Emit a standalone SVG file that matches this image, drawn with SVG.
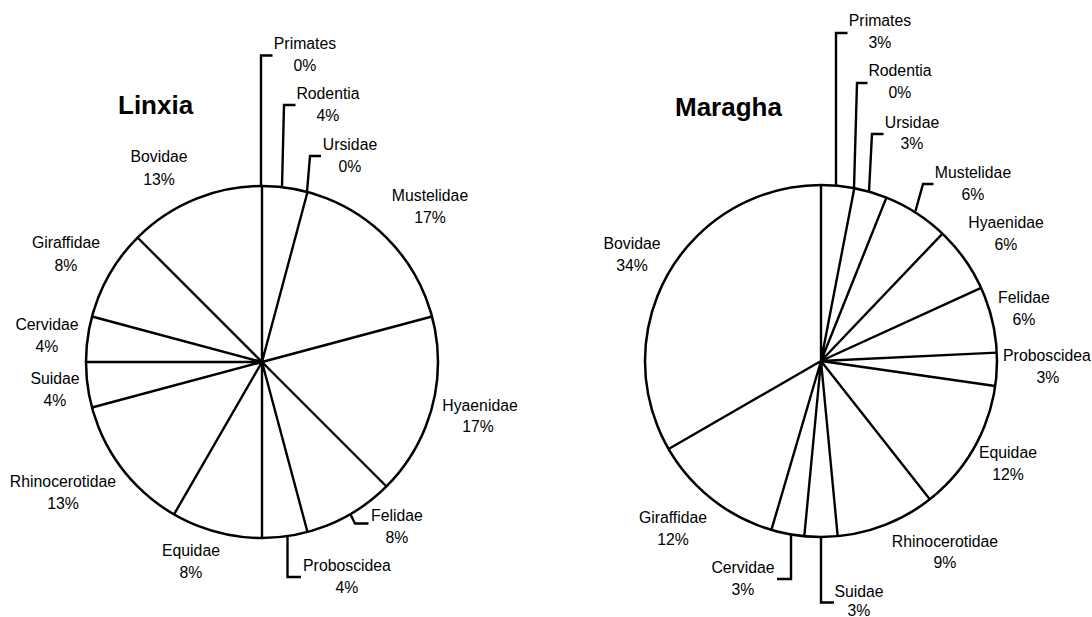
<svg xmlns="http://www.w3.org/2000/svg" width="1092" height="617" viewBox="0 0 1092 617">
<style>
.pie{fill:#fff;stroke:#000;stroke-width:2.5}
.ln{fill:none;stroke:#000;stroke-width:2.4;stroke-linejoin:miter}
.lb{font-family:"Liberation Sans",Arial,Helvetica,sans-serif;font-size:15.8px;fill:#000;text-anchor:middle}
.tt{font-family:"Liberation Sans",Arial,Helvetica,sans-serif;font-size:26px;font-weight:bold;fill:#000}
</style>
<rect width="1092" height="617" fill="#fff"/>
<g id="linxia">
<text class="tt" x="118" y="114">Linxia</text>
<circle class="pie" cx="262" cy="362" r="176"/>
<g id="linxia-slices">
<path class="ln" d="M262 362L262 186M262 362L307.5 192M262 362L432 316.5M262 362L386.5 486.5M262 362L307.5 532M262 362L262 538M262 362L174 514.4M262 362L92 407.5M262 362L86 362M262 362L92 316.5M262 362L137.5 237.5"/>
</g>
</g>
<g id="connectors">
<polyline class="ln" points="261,186 261,55.5 272.5,55.5"/>
<polyline class="ln" points="282,187 284,105 295.5,105"/>
<polyline class="ln" points="307,192 310,156 321,156"/>
<polyline class="ln" points="350.5,514.5 355,523.5 368.5,523.5"/>
<polyline class="ln" points="287.5,537 287.5,577 301,577"/>
<polyline class="ln" points="836,185.6 836,33 847.5,33"/>
<polyline class="ln" points="854,188 857,83 867.5,83"/>
<polyline class="ln" points="869,191.5 872,134 883.5,134"/>
<polyline class="ln" points="915.5,211 923,184 933.5,184"/>
<polyline class="ln" points="791,534.4 791,579 777,579"/>
<polyline class="ln" points="821,537 821,602.5 834,602.5"/>
</g>
<g id="maragha">
<text class="tt" x="675" y="116">Maragha</text>
<circle class="pie" cx="821" cy="361" r="176"/>
<g id="maragha-slices">
<path class="ln" d="M821 361L821 185M821 361L854.3 188.2M821 361L886.4 197.6M821 361L942.5 233.6M821 361L981.1 287.9M821 361L996.8 352.6M821 361L995.2 386M821 361L929.8 499.3M821 361L837.7 536.2M821 361L804.3 536.2M821 361L771.4 529.9M821 361L668.6 449"/>
</g>
</g>
<g id="linxia-labels">
<g id="l-primates"><text class="lb" x="305" y="49">Primates</text><text class="lb" x="305" y="71">0%</text></g>
<g id="l-rodentia"><text class="lb" x="328" y="99">Rodentia</text><text class="lb" x="328" y="121">4%</text></g>
<g id="l-ursidae"><text class="lb" x="350" y="150">Ursidae</text><text class="lb" x="350" y="172">0%</text></g>
<g id="l-mustelidae"><text class="lb" x="430" y="201">Mustelidae</text><text class="lb" x="430" y="223">17%</text></g>
<g id="l-hyaenidae"><text class="lb" x="480" y="411">Hyaenidae</text><text class="lb" x="478" y="432">17%</text></g>
<g id="l-felidae"><text class="lb" x="397" y="521">Felidae</text><text class="lb" x="397" y="543">8%</text></g>
<g id="l-proboscidea"><text class="lb" x="347" y="571">Proboscidea</text><text class="lb" x="347" y="593">4%</text></g>
<g id="l-equidae"><text class="lb" x="191" y="556">Equidae</text><text class="lb" x="191" y="578">8%</text></g>
<g id="l-rhino"><text class="lb" x="63" y="487">Rhinocerotidae</text><text class="lb" x="63" y="509">13%</text></g>
<g id="l-suidae"><text class="lb" x="55" y="384">Suidae</text><text class="lb" x="55" y="406">4%</text></g>
<g id="l-cervidae"><text class="lb" x="47" y="330">Cervidae</text><text class="lb" x="47" y="352">4%</text></g>
<g id="l-giraffidae"><text class="lb" x="66" y="248">Giraffidae</text><text class="lb" x="66" y="271">8%</text></g>
<g id="l-bovidae"><text class="lb" x="159" y="162">Bovidae</text><text class="lb" x="159" y="185">13%</text></g>
</g>
<g id="maragha-labels">
<g id="m-primates"><text class="lb" x="880" y="26">Primates</text><text class="lb" x="880" y="48">3%</text></g>
<g id="m-rodentia"><text class="lb" x="900" y="76">Rodentia</text><text class="lb" x="900" y="98">0%</text></g>
<g id="m-ursidae"><text class="lb" x="912" y="128">Ursidae</text><text class="lb" x="912" y="149">3%</text></g>
<g id="m-mustelidae"><text class="lb" x="973" y="178">Mustelidae</text><text class="lb" x="973" y="200">6%</text></g>
<g id="m-hyaenidae"><text class="lb" x="1006" y="228">Hyaenidae</text><text class="lb" x="1006" y="250">6%</text></g>
<g id="m-felidae"><text class="lb" x="1024" y="303">Felidae</text><text class="lb" x="1024" y="325">6%</text></g>
<g id="m-proboscidea"><text class="lb" x="1047" y="361">Proboscidea</text><text class="lb" x="1048" y="383">3%</text></g>
<g id="m-equidae"><text class="lb" x="1008" y="458">Equidae</text><text class="lb" x="1008" y="480">12%</text></g>
<g id="m-rhino"><text class="lb" x="945" y="547">Rhinocerotidae</text><text class="lb" x="945" y="568">9%</text></g>
<g id="m-suidae"><text class="lb" x="859" y="597">Suidae</text><text class="lb" x="859" y="616">3%</text></g>
<g id="m-cervidae"><text class="lb" x="743" y="573">Cervidae</text><text class="lb" x="743" y="595">3%</text></g>
<g id="m-giraffidae"><text class="lb" x="673" y="523">Giraffidae</text><text class="lb" x="673" y="545">12%</text></g>
<g id="m-bovidae"><text class="lb" x="632" y="249">Bovidae</text><text class="lb" x="632" y="271">34%</text></g>
</g>
</svg>
